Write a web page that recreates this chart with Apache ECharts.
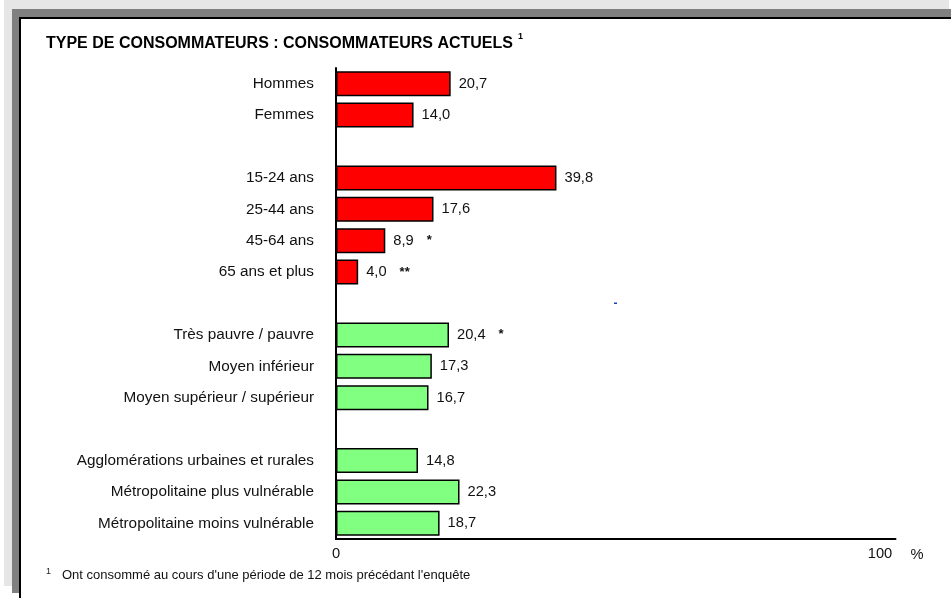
<!DOCTYPE html>
<html>
<head>
<meta charset="utf-8">
<script src="https://cdn.jsdelivr.net/npm/echarts@6/dist/echarts.min.js"></script>
<style>
    body { margin: 0; background: #fff; }
    .frame { position: absolute; }
    #lg { left: 4px; top: 0; width: 945px; height: 586px; background: #e6e6e6; }
    #dg { left: 12px; top: 9px; width: 939px; height: 584px; background: #808080; }
    #panel { left: 19px; top: 17px; width: 940px; height: 590px; background: #fff; border-left: 2px solid #000; border-top: 2px solid #000; }
    #chart { position: absolute; left: 0; top: 0; width: 951px; height: 598px; }
</style>
</head>
<body>
<div class="frame" id="lg"></div>
<div class="frame" id="dg"></div>
<div class="frame" id="panel"></div>
<div id="chart"></div>
<script>
const categories = ['Hommes', 'Femmes', ' ', '15-24 ans', '25-44 ans', '45-64 ans', '65 ans et plus', '  ',
    'Très pauvre / pauvre', 'Moyen inférieur', 'Moyen supérieur / supérieur', '   ',
    'Agglomérations urbaines et rurales', 'Métropolitaine plus vulnérable', 'Métropolitaine moins vulnérable'];
const values = [20.7, 14.0, null, 39.8, 17.6, 8.9, 4.0, null, 20.4, 17.3, 16.7, null, 14.8, 22.3, 18.7];
const notes = ['', '', '', '', '', '*', '**', '', '*', '', '', '', '', '', ''];
const groups = ['sexe', 'sexe', '', 'age', 'age', 'age', 'age', '', 'revenu', 'revenu', 'revenu', '', 'region', 'region', 'region'];
const xTicks = [0, 100];

const font = "'Liberation Sans', Arial, sans-serif";
const groupColor = { sexe: '#ff0000', age: '#ff0000', revenu: '#80ff80', region: '#80ff80' };

let myChart = echarts.init(document.getElementById('chart'));
let options = {
    backgroundColor: 'transparent',
    animation: false,
    title: {
        text: 'TYPE DE CONSOMMATEURS : CONSOMMATEURS ACTUELS',
        left: 46,
        top: 36,
        padding: 0,
        textStyle: {
            fontFamily: font,
            fontSize: 16,
            fontWeight: 'bold',
            color: '#000'
        }
    },
    grid: {
        left: 336,
        top: 68,
        width: 559.5,
        height: 471
    },
    xAxis: {
        type: 'value',
        min: 0,
        max: 101,
        splitLine: { show: false },
        axisTick: { show: false },
        axisLine: {
            show: true,
            lineStyle: { color: '#000', width: 2 }
        },
        axisLabel: {
            customValues: xTicks,
            margin: 7,
            fontFamily: font,
            fontSize: 14.7,
            color: '#111',
            formatter: function (v) {
                return v === 100 ? '{r|100}' : String(v);
            },
            rich: {
                r: { fontFamily: font, fontSize: 14.7, color: '#111', padding: [0, 20, 0, 0] }
            }
        },
        name: '%',
        nameLocation: 'end',
        nameGap: 15,
        nameTextStyle: {
            fontFamily: font,
            fontSize: 14.7,
            color: '#111',
            verticalAlign: 'top',
            padding: [8, 0, 0, 0]
        }
    },
    yAxis: {
        type: 'category',
        inverse: true,
        data: categories,
        axisTick: { show: false },
        axisLine: {
            show: true,
            lineStyle: { color: '#000', width: 2 }
        },
        axisLabel: {
            margin: 22,
            fontFamily: font,
            fontSize: 15.3,
            color: '#111'
        }
    },
    series: [{
        type: 'bar',
        barWidth: 25,
        data: values.map(function (v, i) {
            return {
                value: v,
                itemStyle: { color: groupColor[groups[i]] || '#fff' }
            };
        }),
        itemStyle: {
            borderColor: '#000',
            borderWidth: 1.5
        },
        label: {
            show: true,
            position: 'right',
            distance: 8,
            fontFamily: font,
            fontSize: 14.7,
            color: '#111',
            formatter: function (p) {
                if (p.value == null) return '';
                let txt = p.value.toFixed(1).replace('.', ',');
                let n = notes[p.dataIndex];
                return n ? txt + '{a|' + n + '}' : txt;
            },
            rich: {
                a: { fontFamily: font, fontSize: 13, fontWeight: 'bold', color: '#111', padding: [0, 0, 0, 13] }
            }
        }
    }],
    graphic: [
        {
            type: 'text',
            left: 518,
            top: 32,
            style: { text: '1', font: 'bold 9px ' + font, fill: '#000' }
        },
        {
            type: 'rect',
            shape: { x: 614, y: 302.5, width: 3, height: 1.5 },
            style: { fill: '#1a3fc0' }
        },
        {
            type: 'text',
            left: 46,
            top: 567,
            style: { text: '1', font: '9px ' + font, fill: '#222' }
        },
        {
            type: 'text',
            left: 62,
            top: 569,
            style: { text: "Ont consommé au cours d'une période de 12 mois précédant l'enquête", font: '13px ' + font, fill: '#111' }
        }
    ]
};
myChart.setOption(options);
</script>
</body>
</html>
